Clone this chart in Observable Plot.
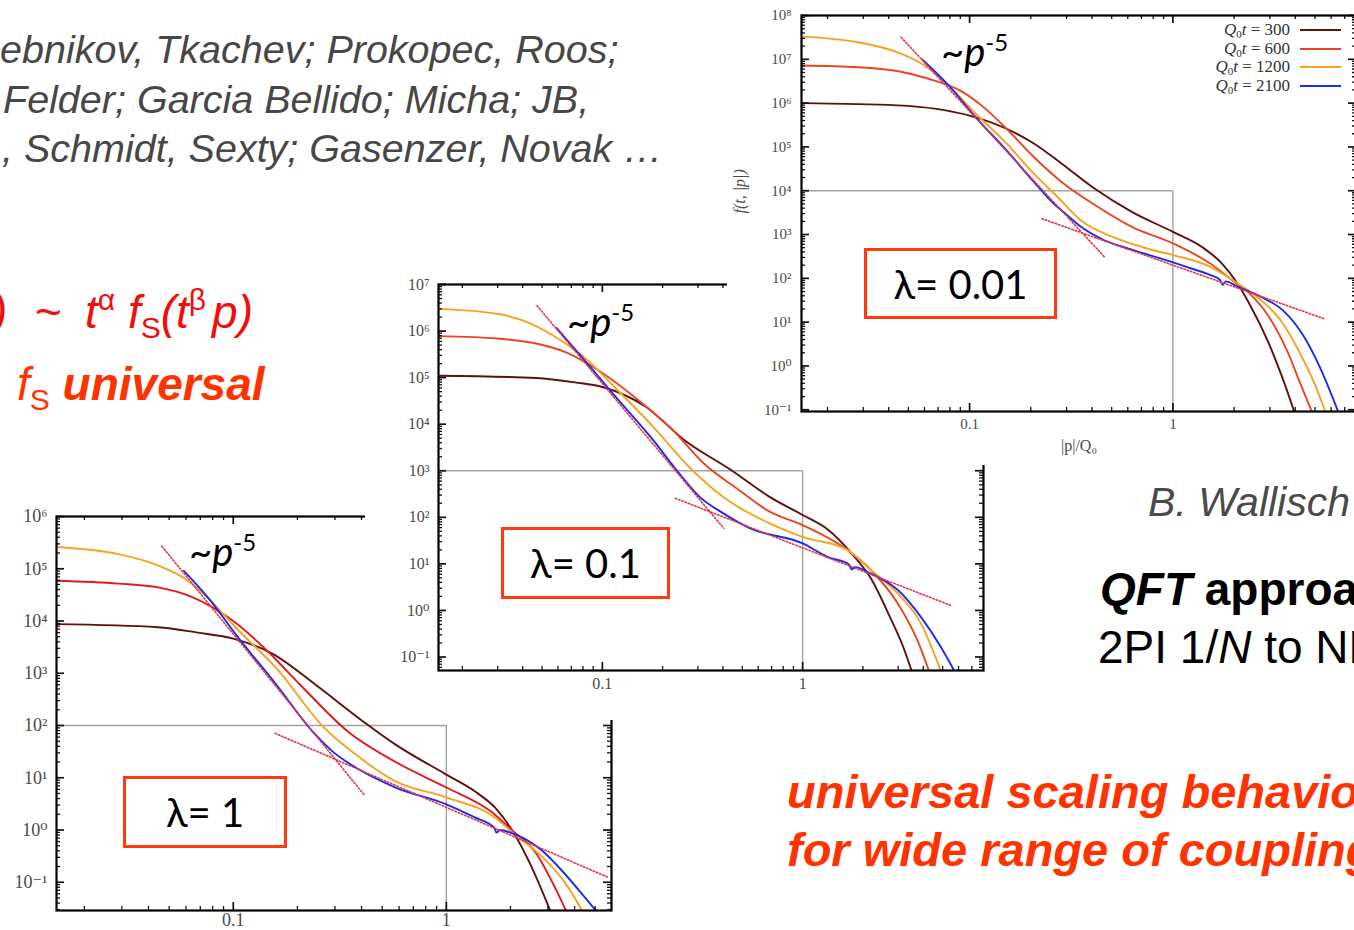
<!DOCTYPE html>
<html>
<head>
<meta charset="utf-8">
<script src="https://cdn.jsdelivr.net/npm/d3@7"></script>
<script src="https://cdn.jsdelivr.net/npm/@observablehq/plot@0.6"></script>
<style>
  html, body { margin: 0; padding: 0; background: #fff; }
  #stage { position: relative; width: 1354px; height: 930px; overflow: hidden; background: #fff; font-family: "Liberation Sans", Arial, sans-serif; }
  .t { position: absolute; white-space: nowrap; line-height: 1; }
  .gray { font-size: 39.5px; font-style: italic; color: #474747; }
  .box { position: absolute; background: #fff; overflow: hidden; }
  .box svg { position: absolute; left: 0; top: 0; max-width: none !important; }
  .lam { position: absolute; box-sizing: border-box; border: 3px solid #ff3a12; background: #fff; font-family: Lato, "Open Sans", sans-serif; font-size: 40px; color: #000; display: flex; align-items: center; justify-content: center; }
  .pl { position: absolute; font-family: Lato, "Open Sans", sans-serif; font-size: 40px; color: #000; white-space: nowrap; line-height: 1; }
  .pl .s { font-size: 24px; position: relative; top: -15px; }
  .leg { position: absolute; font-family: "Liberation Serif", serif; font-size: 17px; color: #333; white-space: nowrap; line-height: 17px; height: 17px; text-align: right; }
  .leg .sb { font-size: 11px; position: relative; top: 3px; }
  .sw { position: absolute; height: 2px; width: 41px; }
</style>
</head>
<body>
<div id="stage">
  <div class="t gray" style="left:0;top:30px">ebnikov, Tkachev; Prokopec, Roos;</div>
  <div class="t gray" style="left:3px;top:80px">Felder; Garcia Bellido; Micha; JB,</div>
  <div class="t gray" style="left:2px;top:129px">, Schmidt, Sexty; Gasenzer, Novak …</div>

  <div class="t" style="left:-8px;top:289px;font-size:46px;font-style:italic;color:#f20c0c">)</div>
  <div class="t" style="left:35px;top:289px;font-size:46px;color:#f20c0c">~</div>
  <div class="t" style="left:85px;top:289px;font-size:46px;font-style:italic;color:#f20c0c">t<span style="font-size:30px;position:relative;top:-18px;font-style:normal">α</span> f<span style="font-size:30px;position:relative;top:10px;font-style:normal">S</span>(t<span style="font-size:30px;position:relative;top:-18px;font-style:normal">β</span><span style="margin-left:6px">p</span>)</div>

  <div class="t" style="left:17px;top:361px;font-size:46px;font-style:italic;color:#ff3300">f<span style="font-size:30px;position:relative;top:10px;font-style:normal">S</span> <b>universal</b></div>

  <div class="t" style="left:1148px;top:482px;font-size:41px;font-style:italic;color:#4a4a4a">B. Wallisch</div>
  <div class="t" style="left:1100px;top:566px;font-size:46px;font-weight:bold;color:#000"><i>QFT</i> approach</div>
  <div class="t" style="left:1098px;top:624px;font-size:46px;color:#000">2PI 1/<i>N</i> to NLO</div>
  <div class="t" style="left:787px;top:768px;font-size:47px;font-weight:bold;font-style:italic;color:#ff3300">universal scaling behavior</div>
  <div class="t" style="left:787px;top:826px;font-size:47px;font-weight:bold;font-style:italic;color:#ff3300">for wide range of couplings</div>

  <div class="box" id="b1" style="left:0;top:500px;width:620px;height:430px">
    <div class="pl" style="left:189px;top:31px">~<i>p</i><span class="s">-5</span></div>
    <div class="lam" style="left:123px;top:276px;width:164px;height:72px">λ= 1</div>
  </div>
  <div class="box" id="b2" style="left:365px;top:268px;width:625px;height:452px">
    <div class="pl" style="left:202px;top:33px">~<i>p</i><span class="s">-5</span></div>
    <div class="lam" style="left:136px;top:259px;width:169px;height:72px">λ= 0.1</div>
  </div>
  <div class="box" id="b3" style="left:727px;top:0;width:627px;height:465px">
    <div class="pl" style="left:214px;top:31px">~<i>p</i><span class="s">-5</span></div>
    <div class="lam" style="left:137px;top:248px;width:193px;height:71px">λ= 0.01</div>
    <div id="legend"></div>
  </div>
</div>
<script>
// ---------------- data ----------------
const seriesNames = ["Q₀t = 300", "Q₀t = 600", "Q₀t = 1200", "Q₀t = 2100"];
const seriesColors = ["#5e1010", "#e8461e", "#f6a321", "#1a2ee8"];
const seriesColorsL1 = ["#5e1010", "#e3191f", "#f6a321", "#1a2ee8"];
const fitColor = "#e8334a";
const xTickValues = [0.1, 1];
const xTickLabels = ["0.1", "1"];

// λ = 0.01 (top right)
const L001_p300 = [0.0149,0.044,0.0687,0.1,0.152,0.207,0.283,0.403,0.628,1.0,1.39,1.74,2.07,2.37,2.96,3.53,3.95];
const L001_f300 = [1.0e6,8.9e5,7.4e5,5.2e5,2.6e5,1.2e5,4.2e4,1.2e4,3.3e3,1.15e3,520,220,78,27,3.3,0.41,0.091];
const L001_p600 = [0.0149,0.0283,0.044,0.0628,0.0895,0.117,0.152,0.207,0.296,0.403,0.628,1.0,1.52,1.99,2.37,2.96,3.69,4.22,4.82];
const L001_f600 = [7.2e6,6.6e6,5.4e6,3.6e6,1.95e6,8.1e5,2.6e5,5.9e4,1.35e4,5.1e3,1.5e3,630,220,85,46,13.5,1.95,0.41,0.091];
const L001_p1200 = [0.0149,0.0283,0.044,0.060,0.0784,0.107,0.152,0.207,0.271,0.353,0.503,0.783,1.0,1.52,2.07,2.71,3.38,4.22,5.04,5.62];
const L001_f1200 = [3.3e7,2.45e7,1.45e7,7.2e6,2.6e6,5.8e5,1.2e5,2.45e4,7.2e3,2.1e3,890,450,340,186,78,32,11.2,1.95,0.34,0.091];
const L001_p2100 = [0.0587,0.0784,0.107,0.152,0.207,0.259,0.296,0.353,0.46,0.628,0.977,1.22,1.52,1.70,1.76,1.82,2.07,2.71,3.53,4.41,5.26,6.5];
const L001_f2100 = [9.8e6,2.6e6,4.8e5,8.3e4,1.6e4,5.1e3,3.0e3,1.5e3,740,450,240,170,120,93,71,85,65,38,17.4,4.7,0.98,0.091];
const L001_fit5_p = [0.046, 0.46],  L001_fit5_f = [3.2e7, 310];
const L001_fit15_p = [0.227, 5.62], L001_fit15_f = [2300, 11.7];
const L001_yExp = [-1,0,1,2,3,4,5,6,7,8];

// λ = 0.1 (middle)
const L01_p300 = [0.0152,0.0468,0.073,0.1,0.164,0.256,0.437,0.684,1.0,1.34,1.75,2.19,2.73,3.13,3.5];
const L01_f300 = [1.1e5,9.8e4,7.9e4,6.3e4,2.4e4,4.6e3,1.05e3,275,112,54,17,4.9,0.72,0.195,0.051];
const L01_p600 = [0.0152,0.0299,0.0468,0.0668,0.1,0.143,0.224,0.32,0.479,0.684,1.0,1.67,2.19,2.99,3.74,4.27];
const L01_f600 = [7.8e5,6.9e5,5.4e5,3.4e5,1.26e5,4.0e4,7.6e3,1.45e3,390,132,68,20,7.4,1.4,0.23,0.051];
const L01_p1200 = [0.0152,0.0299,0.0447,0.0611,0.0836,0.114,0.179,0.28,0.4,0.684,1.0,1.67,2.19,2.99,3.9,4.89];
const L01_f1200 = [3.0e6,2.35e6,1.4e6,6.6e5,2.45e5,6.5e4,8.9e3,1.05e3,275,74,38,20,7.4,2.3,0.52,0.051];
const L01_p2100 = [0.059,0.08,0.114,0.179,0.234,0.306,0.4,0.547,1.0,1.34,1.70,1.76,1.82,2.19,2.99,3.9,4.89,5.71];
const L01_f2100 = [1.17e6,2.6e5,4.3e4,4.6e3,1.05e3,275,123,58,27.5,14,9.8,7.6,8.5,6.2,2.75,0.72,0.166,0.051];
const L01_fit5_p = [0.0472, 0.404], L01_fit5_f = [3.5e6, 58];
const L01_fit15_p = [0.231, 5.47],  L01_fit15_f = [257, 1.29];
const L01_yExp = [-1,0,1,2,3,4,5,6,7];

// λ = 1 (bottom left)
const L1_p300 = [0.0148,0.0444,0.068,0.1,0.153,0.245,0.41,0.578,1.0,1.36,1.69,2.09,2.48,3.07];
const L1_f300 = [8.7e3,7.6e3,6.0e3,4.6e3,2.35e3,590,117,43,11.5,5.5,2.7,0.83,0.22,0.029];
const L1_p600 = [0.0148,0.0289,0.0444,0.0625,0.1,0.147,0.207,0.346,0.578,1.0,1.61,2.0,2.65,3.17,3.64];
const L1_f600 = [5.9e4,5.2e4,4.4e4,3.0e4,1.0e4,2.5e3,590,76,20,6.5,2.3,1.05,0.35,0.093,0.029];
const L1_p1200 = [0.0148,0.0289,0.0444,0.0598,0.0773,0.104,0.16,0.268,0.377,0.578,1.0,1.69,2.09,2.94,3.64,4.33];
const L1_f1200 = [2.6e5,1.9e5,1.15e5,6.3e4,2.6e4,7.1e3,1.23e3,89,27.5,8.5,4.2,1.74,0.83,0.26,0.093,0.029];
const L1_p2100 = [0.0586,0.0773,0.104,0.16,0.236,0.292,0.377,0.578,1.0,1.36,1.68,1.72,1.78,2.09,2.82,3.49,4.33,5.02];
const L1_f2100 = [9.1e4,2.6e4,5.2e3,590,76,32,15.5,6.5,3.1,1.74,1.1,0.89,1.0,0.83,0.40,0.166,0.060,0.029];
const L1_fit5_p = [0.0462, 0.41], L1_fit5_f = [2.7e5, 4.8];
const L1_fit15_p = [0.157, 5.70], L1_fit15_f = [71, 0.126];
const L1_yExp = [-1,0,1,2,3,4,5,6];

// ---------------- drawing ----------------
const SUP = {"-":"⁻","0":"⁰","1":"¹","2":"²","3":"³","4":"⁴","5":"⁵","6":"⁶","7":"⁷","8":"⁸","9":"⁹"};
const supFmt = d => "10" + String(Math.round(Math.log10(d))).split("").map(c => SUP[c]).join("");
const rows = (p, f) => p.map((v, i) => ({p: v, f: f[i]}));

function logTicks([lo, hi]) {
  const major = [], minor = [];
  for (let e = Math.floor(Math.log10(lo)); e <= Math.ceil(Math.log10(hi)); e++) {
    for (let m = 1; m <= 9; m++) {
      const v = m * Math.pow(10, e);
      if (v < lo * 0.999 || v > hi * 1.001) continue;
      (m === 1 ? major : minor).push(v);
    }
  }
  return {major, minor};
}

function makeChart(c) {
  const fw = c.width - c.mL - c.mR, fh = c.height - c.mT - c.mB;
  const xt = logTicks(c.xDomain), yt = logTicks(c.yDomain);
  const tk = {stroke: "#111", strokeWidth: 1.3};
  const marks = [
    Plot.ruleY([c.boxY], {x1: c.xDomain[0], x2: 1, stroke: "#a3a3a3", strokeWidth: 1.4}),
    Plot.ruleX([1], {y1: c.yDomain[0], y2: c.boxY, stroke: "#a3a3a3", strokeWidth: 1.4})
  ];
  c.series.forEach(s => marks.push(Plot.line(rows(s.p, s.f), {x: "p", y: "f", stroke: s.color, strokeWidth: 1.9, curve: "monotone-x", clip: true})));
  c.fits.forEach(s => marks.push(Plot.line(rows(s.p, s.f), {x: "p", y: "f", stroke: fitColor, strokeWidth: 1.6, strokeDasharray: "1.5 2", clip: true})));
  marks.push(
    Plot.tickX(xt.major, {x: d => d, insetTop: fh - 8, ...tk, strokeWidth: 1.7}),
    Plot.tickX(xt.major, {x: d => d, insetBottom: fh - 8, ...tk, strokeWidth: 1.7}),
    Plot.tickX(xt.minor, {x: d => d, insetTop: fh - 4, ...tk}),
    Plot.tickX(xt.minor, {x: d => d, insetBottom: fh - 4, ...tk}),
    Plot.tickY(yt.major, {y: d => d, insetRight: fw - 8, ...tk, strokeWidth: 1.7}),
    Plot.tickY(yt.major, {y: d => d, insetLeft: fw - 8, ...tk, strokeWidth: 1.7}),
    Plot.tickY(yt.minor, {y: d => d, insetRight: fw - 4, ...tk}),
    Plot.tickY(yt.minor, {y: d => d, insetLeft: fw - 4, ...tk}),
    Plot.frame({stroke: "#000", strokeWidth: 2.2}),
    Plot.axisX({ticks: xTickValues, tickFormat: d => xTickLabels[xTickValues.indexOf(d)], tickSize: 0, tickPadding: c.xPad, label: null, fontSize: c.fs, fill: "#4a4a4a"}),
    Plot.axisY({ticks: c.yExp.map(e => Math.pow(10, e)), tickFormat: supFmt, tickSize: 0, tickPadding: c.yPad, label: null, fontSize: c.fs, fill: "#4a4a4a"})
  );
  if (c.labels) {
    marks.push(
      Plot.text(["|p|/Q₀"], {text: d => d, frameAnchor: "bottom", dy: 39, fontSize: 16, fill: "#4a4a4a"}),
      Plot.text(["f(t, |p|)"], {text: d => d, frameAnchor: "left", dx: -62, rotate: -90, fontSize: 16, fontStyle: "italic", fill: "#4a4a4a"})
    );
  }
  return Plot.plot({
    width: c.width, height: c.height,
    marginLeft: c.mL, marginRight: c.mR, marginTop: c.mT, marginBottom: c.mB,
    x: {type: "log", domain: c.xDomain},
    y: {type: "log", domain: c.yDomain},
    style: {fontFamily: "'Liberation Serif', 'DejaVu Serif', serif", fontSize: c.fs + "px", background: "transparent", overflow: "visible", maxWidth: "none"},
    marks
  });
}

function series(ps, fs, colors) {
  return ps.map((p, i) => ({p, f: fs[i], color: colors[i]}));
}

const chart1 = makeChart({
  width: 620, height: 430, mL: 56, mR: 9, mT: 16, mB: 20,
  xDomain: [0.0148, 5.96], yDomain: [0.0288, 1e6], yExp: L1_yExp, boxY: 1e2,
  xPad: 3, yPad: 9, fs: 18,
  series: series([L1_p300, L1_p600, L1_p1200, L1_p2100], [L1_f300, L1_f600, L1_f1200, L1_f2100], seriesColorsL1),
  fits: [{p: L1_fit5_p, f: L1_fit5_f}, {p: L1_fit15_p, f: L1_fit15_f}]
});
const chart2 = makeChart({
  width: 625, height: 452, mL: 73, mR: 7, mT: 16, mB: 50,
  xDomain: [0.0152, 8.0], yDomain: [0.0513, 1e7], yExp: L01_yExp, boxY: 1e3,
  xPad: 7, yPad: 9, fs: 16,
  series: series([L01_p300, L01_p600, L01_p1200, L01_p2100], [L01_f300, L01_f600, L01_f1200, L01_f2100], seriesColors),
  fits: [{p: L01_fit5_p, f: L01_fit5_f}, {p: L01_fit15_p, f: L01_fit15_f}]
});
const chart3 = makeChart({
  width: 640, height: 465, mL: 74, mR: 11, mT: 15, mB: 54,
  xDomain: [0.0149, 8.0], yDomain: [0.0912, 1e8], yExp: L001_yExp, boxY: 1e4,
  xPad: 7, yPad: 10, fs: 15, labels: true,
  series: series([L001_p300, L001_p600, L001_p1200, L001_p2100], [L001_f300, L001_f600, L001_f1200, L001_f2100], seriesColors),
  fits: [{p: L001_fit5_p, f: L001_fit5_f}, {p: L001_fit15_p, f: L001_fit15_f}]
});

[["b1", chart1], ["b2", chart2], ["b3", chart3]].forEach(([id, svg]) => {
  const b = document.getElementById(id);
  b.insertBefore(svg, b.firstChild);
});

// legend (top right chart)
const legend = document.getElementById("legend");
const legTops = [21, 40, 58, 77];
seriesNames.forEach((name, i) => {
  const t = document.createElement("div");
  t.className = "leg";
  t.style.right = (627 - 563) + "px";
  t.style.top = legTops[i] + "px";
  t.innerHTML = name.replace("Q₀t", "<i>Q</i><span class='sb'>0</span><i>t</i>");
  legend.appendChild(t);
  const sw = document.createElement("div");
  sw.className = "sw";
  sw.style.left = "573px";
  sw.style.top = (legTops[i] + 8) + "px";
  sw.style.background = seriesColors[i];
  legend.appendChild(sw);
});
</script>
</body>
</html>
